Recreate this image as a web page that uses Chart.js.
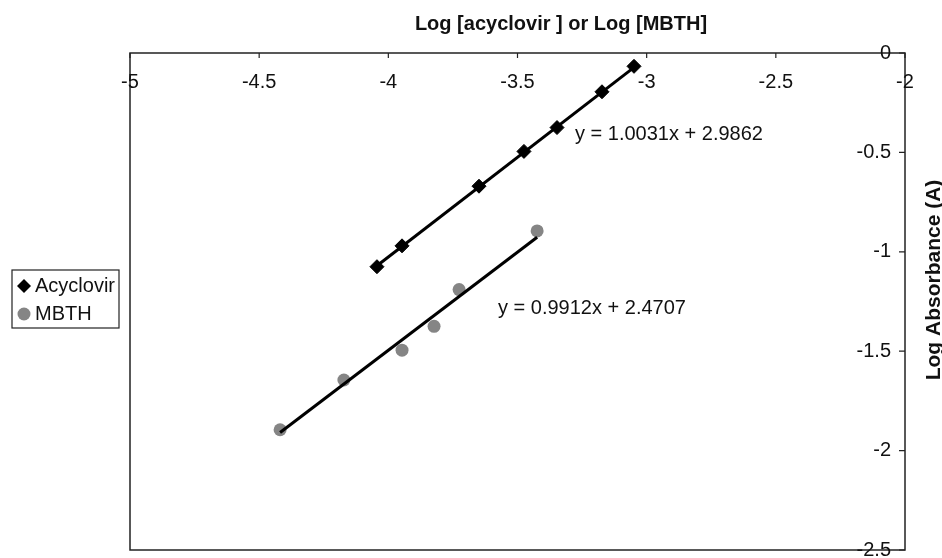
<!DOCTYPE html>
<html>
<head>
<meta charset="utf-8">
<script src="https://cdn.jsdelivr.net/npm/chart.js@4/dist/chart.umd.min.js"></script>
<style>
  html, body { margin: 0; padding: 0; background: #fff; }
  #wrap { width: 942px; height: 558px; position: relative; }
</style>
</head>
<body>
<div id="wrap"><canvas id="chart"></canvas></div>
<script>
// valores
const acycloX = [-4.044, -3.947, -3.649, -3.475, -3.347, -3.173, -3.049];
const acycloY = [-1.075, -0.970, -0.670, -0.495, -0.375, -0.195, -0.067];
const mbthX = [-4.419, -4.172, -3.947, -3.823, -3.726, -3.424];
const mbthY = [-1.895, -1.645, -1.495, -1.375, -1.190, -0.895];

// linhas de tendência (extremos)
const acycloTrendX = [-4.044, -3.049];
const acycloTrendY = [-1.070, -0.072];
const mbthTrendX = [-4.419, -3.424];
const mbthTrendY = [-1.909, -0.927];

const xTicks = [-5, -4.5, -4, -3.5, -3, -2.5, -2];
const yTicks = [0, -0.5, -1, -1.5, -2, -2.5];

const seriesNames = ['Acyclovir', 'MBTH'];
const equations = ['y = 1.0031x + 2.9862', 'y = 0.9912x + 2.4707'];
const xTitle = 'Log [acyclovir ] or Log [MBTH]';
const yTitle = 'Log Absorbance (A)';

function toPoints(xs, ys) {
  return xs.map((x, i) => ({ x: x, y: ys[i] }));
}

const FONT = '"Liberation Sans", Arial, sans-serif';

// desenha moldura, marcas, rótulos, títulos e legenda
const decor = {
  id: 'decor',
  afterDatasetsDraw(chart) {
    const ctx = chart.ctx;
    const a = chart.chartArea;
    const xs = chart.scales.x;
    const ys = chart.scales.y;
    ctx.save();

    // moldura
    ctx.strokeStyle = '#222';
    ctx.lineWidth = 1.5;
    ctx.strokeRect(a.left, a.top, a.right - a.left, a.bottom - a.top);

    // marcas dos eixos (para dentro)
    ctx.lineWidth = 1.2;
    ctx.beginPath();
    xTicks.forEach(v => {
      const px = xs.getPixelForValue(v);
      ctx.moveTo(px, a.top);
      ctx.lineTo(px, a.top + 5);
    });
    yTicks.forEach(v => {
      const py = ys.getPixelForValue(v);
      ctx.moveTo(a.right, py);
      ctx.lineTo(a.right - 6, py);
    });
    ctx.stroke();

    ctx.fillStyle = '#111';
    ctx.font = '20px ' + FONT;
    ctx.textAlign = 'center';
    ctx.textBaseline = 'middle';
    xTicks.forEach(v => {
      ctx.fillText(String(v), xs.getPixelForValue(v), a.top + 29);
    });
    ctx.textAlign = 'right';
    yTicks.forEach(v => {
      ctx.fillText(String(v), a.right - 14, ys.getPixelForValue(v));
    });

    // equações
    ctx.textAlign = 'left';
    ctx.fillText(equations[0], 575, 134);
    ctx.fillText(equations[1], 498, 308);

    // títulos
    ctx.font = 'bold 20px ' + FONT;
    ctx.textAlign = 'center';
    ctx.fillText(xTitle, 561, 24);
    ctx.save();
    ctx.translate(934, 280);
    ctx.rotate(-Math.PI / 2);
    ctx.font = 'bold 21px ' + FONT;
    ctx.fillText(yTitle, 0, 0);
    ctx.restore();

    // legenda
    ctx.strokeStyle = '#222';
    ctx.lineWidth = 1.2;
    ctx.strokeRect(12, 270, 107, 58);
    ctx.font = '20px ' + FONT;
    ctx.textAlign = 'left';
    [2, 3].forEach((idx, i) => {
      const ds = chart.data.datasets[idx];
      const cy = 286 + i * 28;
      ctx.fillStyle = ds.pointBackgroundColor;
      Chart.helpers.drawPoint(ctx, {
        pointStyle: ds.pointStyle,
        radius: ds.pointRadius,
        borderWidth: 0
      }, 24, cy);
      ctx.fillStyle = '#111';
      ctx.fillText(ds.label, 35, cy);
    });

    ctx.restore();
  }
};

new Chart(document.getElementById('chart'), {
  type: 'scatter',
  data: {
    datasets: [
      {
        label: 'trend1',
        type: 'line',
        data: toPoints(acycloTrendX, acycloTrendY),
        borderColor: '#000',
        borderWidth: 3,
        pointRadius: 0,
        order: 0
      },
      {
        label: 'trend2',
        type: 'line',
        data: toPoints(mbthTrendX, mbthTrendY),
        borderColor: '#000',
        borderWidth: 3,
        pointRadius: 0,
        order: 0
      },
      {
        label: seriesNames[0],
        data: toPoints(acycloX, acycloY),
        pointStyle: 'rectRot',
        pointRadius: 7,
        pointBackgroundColor: '#000',
        pointBorderColor: '#000',
        pointBorderWidth: 1,
        order: 1
      },
      {
        label: seriesNames[1],
        data: toPoints(mbthX, mbthY),
        pointStyle: 'circle',
        pointRadius: 6.5,
        pointBackgroundColor: '#858585',
        pointBorderColor: '#858585',
        pointBorderWidth: 0,
        order: 1
      }
    ]
  },
  options: {
    responsive: true,
    maintainAspectRatio: false,
    animation: false,
    layout: { padding: { left: 130, top: 53, right: 37, bottom: 6 } },
    scales: {
      x: { type: 'linear', min: -5, max: -2, display: false },
      y: { type: 'linear', min: -2.5, max: 0, display: false }
    },
    plugins: {
      legend: { display: false },
      tooltip: { enabled: false }
    }
  },
  plugins: [decor]
});
</script>
</body>
</html>
